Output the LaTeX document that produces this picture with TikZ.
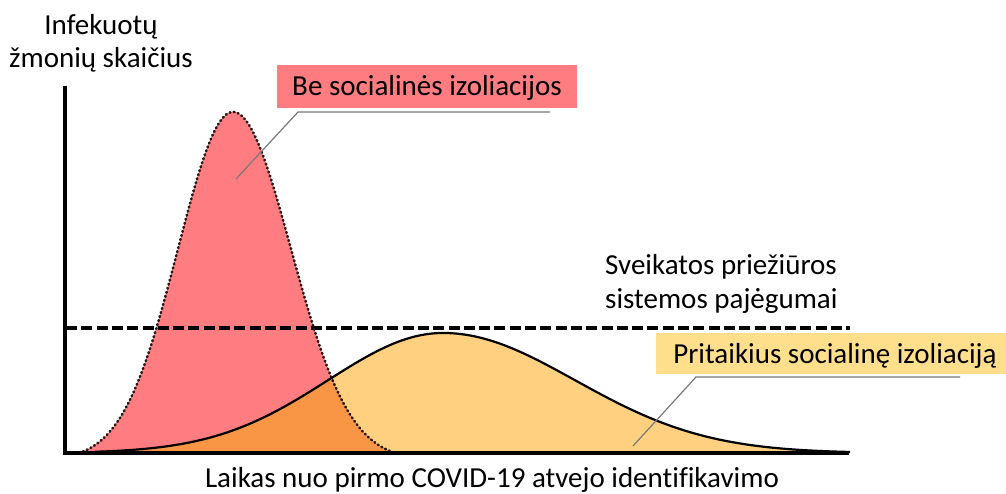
\documentclass[tikz,border=0pt]{standalone}
\usepackage{fontspec}
\setmainfont[Ligatures=NoCommon]{Carlito}
\definecolor{redfill}{RGB}{255,124,128}
\definecolor{yelfill}{RGB}{255,208,128}
\definecolor{orafill}{RGB}{248,150,70}
\definecolor{ybox}{RGB}{255,222,140}
\definecolor{leadergray}{RGB}{120,120,120}
\definecolor{dotgray}{RGB}{40,25,25}
\begin{document}
\begin{tikzpicture}[x=1pt,y=-1pt,
  declare function={
    redh(\x)=341*max(exp(-0.5*((\x-233)/(\x<233?55:58))^2)-0.02,0)/0.98;
    yelh(\x)=120*exp(-0.5*((\x-443)/(\x<443?115:132))^2);
  },
  lbl/.style={font=\fontsize{29}{33.5}\selectfont, inner sep=0pt},
  boxlbl/.style={lbl, text height=25pt, text depth=6pt},
  dottedcurve/.style={draw=dotgray, line width=2.6pt, dash pattern=on 0.9pt off 3.3pt, line cap=round},
  solidcurve/.style={draw=black, line width=2.2pt},
  leaderline/.style={draw=leadergray, line width=1.2pt},
  axisline/.style={draw=black, line width=4.5pt},
  capline/.style={draw=black, line width=3.5pt, dash pattern=on 11pt off 4.3pt}
]
\useasboundingbox (0,0) rectangle (1006,494);
% fills
\fill[redfill] plot[domain=79:395,samples=220] (\x,{453-redh(\x)}) -- cycle;
\fill[yelfill] (95,453) -- plot[domain=95:850,samples=260] (\x,{453-yelh(\x)}) -- (850,453) -- cycle;
\fill[orafill] plot[domain=79:395,samples=220] (\x,{453-min(redh(\x),yelh(\x))}) -- cycle;
% capacity line
\coordinate (capL) at (66,328);
\coordinate (capR) at (850,328);
\draw[capline] (capL) -- (capR);
% outlines
\draw[dottedcurve] plot[domain=79:395,samples=220] (\x,{453-redh(\x)});
\draw[solidcurve] plot[domain=95:850,samples=260] (\x,{453-yelh(\x)});
% leaders
\coordinate (beA) at (236,179);
\coordinate (beB) at (298,112);
\coordinate (beC) at (550,112);
\draw[leaderline] (beA) -- (beB) -- (beC);
\coordinate (prA) at (633,446);
\coordinate (prB) at (696,377);
\coordinate (prC) at (960,377);
\draw[leaderline] (prA) -- (prB) -- (prC);
% axes
\coordinate (axTop) at (65,86);
\coordinate (axO) at (65,453);
\coordinate (axR) at (849,453);
\draw[axisline] (axTop) -- (axO) -- (axR);
% labels
\node[lbl, align=center, anchor=base] (ylabel) at (101,68) {Infekuotų\\žmonių skaičius};
\node[lbl, align=left, anchor=base west] (capacity) at (605,308) {Sveikatos priežiūros\\sistemos pajėgumai};
\node[lbl, anchor=base] (xlabel) at (492,487) {Laikas nuo pirmo COVID-19 atvejo identifikavimo};
\node[boxlbl, fill=redfill, minimum width=300pt, minimum height=43pt] (belabel) at (427,86.5) {Be socialinės izoliacijos};
\node[boxlbl, fill=ybox, minimum width=350pt, minimum height=41pt] (prlabel) at (831,353.5) {\hspace*{8pt}Pritaikius socialinę izoliaciją};
\end{tikzpicture}
\end{document}
